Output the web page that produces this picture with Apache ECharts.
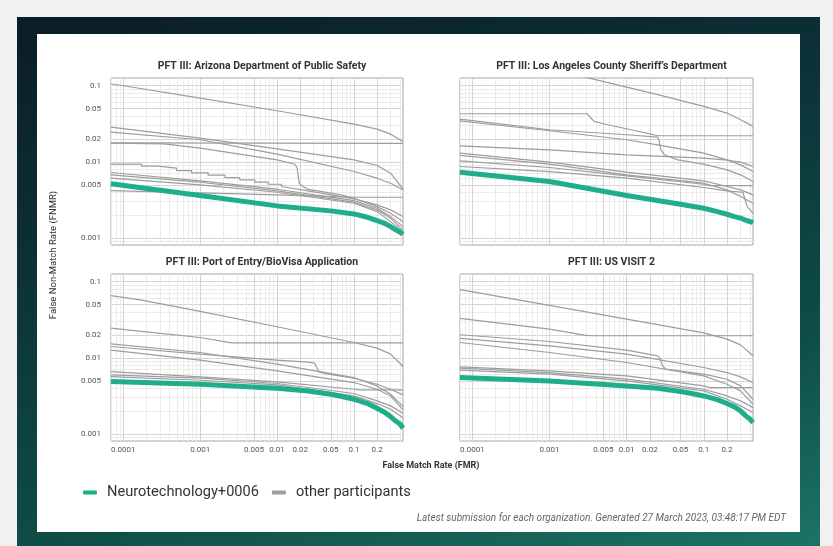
<!DOCTYPE html>
<html>
<head>
<meta charset="utf-8">
<script src="https://cdn.jsdelivr.net/npm/echarts@6/dist/echarts.min.js"></script>
<style>
  html, body { margin: 0; padding: 0; }
  body { width: 833px; height: 546px; background: #f1f1f1; position: relative; overflow: hidden; }
  #bg { position: absolute; left: 17px; top: 17px; width: 803px; height: 540px;
        background: linear-gradient(165deg, #0a1c28 0%, #0c3238 35%, #0e4d45 70%, #1d7568 100%); }
  #panel { position: absolute; left: 37px; top: 34px; width: 763px; height: 498px; background: #fff; }
  #chart { position: absolute; left: 0; top: 0; width: 833px; height: 546px; }
</style>
</head>
<body>
<div id="bg"></div>
<div id="panel"></div>
<div id="chart"></div>
<script>
var xTicks = [0.0001, 0.001, 0.005, 0.01, 0.02, 0.05, 0.1, 0.2];
var yTicks = [0.001, 0.005, 0.01, 0.02, 0.05, 0.1];

var panelTitles = [
  'PFT III: Arizona Department of Public Safety',
  'PFT III: Los Angeles County Sheriff\u2019s Department',
  'PFT III: Port of Entry/BioVisa Application',
  'PFT III: US VISIT 2'
];

// [FMR, FNMR]
var greenArizona = [[6.9e-5, 0.00514], [1e-3, 0.00361], [0.01, 0.00264], [0.05, 0.00227], [0.1, 0.00207], [0.15, 0.00187],
  [0.2, 0.00169], [0.25, 0.00156], [0.3, 0.00141], [0.35, 0.00128], [0.4, 0.00119], [0.435, 0.00112]];
var otherArizona = [
  [[6.9e-5, 0.106], [1e-3, 0.0688], [0.01, 0.0469], [0.1, 0.0313], [0.2, 0.0269], [0.3, 0.0231], [0.435, 0.0185]],
  [[6.9e-5, 0.0286], [1e-3, 0.0205], [0.01, 0.0148], [0.1, 0.01063], [0.2, 0.00895], [0.3, 0.0071], [0.435, 0.00437]],
  [[6.9e-5, 0.0246], [1e-3, 0.0195], [0.01, 0.01262], [0.1, 0.00746], [0.2, 0.0061], [0.3, 0.00524], [0.435, 0.00428]],
  [[6.9e-5, 0.0177], [0.435, 0.0175]],
  [[6.9e-5, 0.0176], [3.4e-4, 0.0172], [3.6e-4, 0.0163], [1e-3, 0.0151], [0.01, 0.0106], [0.017, 0.0093], [0.0183, 0.0083],
   [0.0188, 0.0065], [0.0195, 0.0052], [0.022, 0.0047], [0.0253, 0.00435], [0.042, 0.0040], [0.07, 0.00365], [0.1, 0.00333],
   [0.2, 0.00258], [0.3, 0.00211], [0.435, 0.00164]],
  [[6.9e-5, 0.00932], [1.73e-4, 0.00932], [1.73e-4, 0.00877], [2.85e-4, 0.00877], [2.85e-4, 0.00826], [4.93e-4, 0.00826],
   [4.93e-4, 0.00769], [7.73e-4, 0.00769], [7.73e-4, 0.00717], [1.27e-3, 0.00717], [1.27e-3, 0.00668], [2.1e-3, 0.00668],
   [2.1e-3, 0.00622], [3.27e-3, 0.00622], [3.27e-3, 0.0058], [5.13e-3, 0.0058], [5.13e-3, 0.0054], [7.64e-3, 0.0054],
   [7.64e-3, 0.00508], [0.0114, 0.00508], [0.0114, 0.00474], [0.0253, 0.00415], [0.1, 0.00326], [0.2, 0.00272],
   [0.3, 0.00234], [0.435, 0.00191]],
  [[6.9e-5, 0.00724], [1e-3, 0.00563], [0.01, 0.00437], [0.1, 0.0031], [0.2, 0.00246], [0.3, 0.00191], [0.435, 0.00141]],
  [[6.9e-5, 0.00675], [1e-3, 0.0054], [0.01, 0.00415], [0.1, 0.00295], [0.2, 0.00234], [0.3, 0.00182], [0.435, 0.00127]],
  [[6.9e-5, 0.0061], [1e-3, 0.00498], [0.01, 0.00399], [0.1, 0.00286], [0.2, 0.00222], [0.3, 0.00164], [0.435, 0.00121]],
  [[6.9e-5, 0.0042], [1e-3, 0.00391], [0.01, 0.00368], [0.07, 0.00346], [0.12, 0.00343], [0.435, 0.00343]]
];

var greenLosAngeles = [[6.9e-5, 0.00731], [1e-3, 0.00551], [0.01, 0.00361], [0.05, 0.00277], [0.1, 0.00246], [0.15, 0.00222],
  [0.2, 0.00205], [0.25, 0.00191], [0.3, 0.00182], [0.35, 0.00171], [0.4, 0.00164], [0.435, 0.00159]];
var otherLosAngeles = [
  [[1e-3, 0.17], [3.27e-3, 0.126], [0.0253, 0.0762], [0.1, 0.0535], [0.2, 0.0437], [0.3, 0.0357], [0.435, 0.0292]],
  [[6.9e-5, 0.0428], [3.1e-3, 0.0428], [3.44e-3, 0.0376], [3.8e-3, 0.034], [5.67e-3, 0.0307], [0.0114, 0.0264],
   [0.0207, 0.0231], [0.0253, 0.022], [0.435, 0.022]],
  [[6.9e-5, 0.0346], [1e-3, 0.0256], [0.01, 0.0195], [0.0253, 0.01674], [0.1, 0.013], [0.2, 0.01063], [0.3, 0.00913], [0.435, 0.00746]],
  [[6.9e-5, 0.0364], [1e-3, 0.0264], [0.01, 0.0227], [0.0253, 0.0211], [0.0266, 0.0185], [0.0274, 0.0148], [0.0309, 0.01237],
   [0.046, 0.01063], [0.1, 0.00932], [0.2, 0.00785], [0.3, 0.00675], [0.435, 0.00551]],
  [[6.9e-5, 0.01624], [1e-3, 0.01439], [0.01, 0.01237], [0.1, 0.01118], [0.2, 0.01052], [0.3, 0.0099], [0.435, 0.00868]],
  [[6.9e-5, 0.013], [1e-3, 0.0099], [0.01, 0.00731], [0.1, 0.00563], [0.2, 0.00474], [0.3, 0.00428], [0.435, 0.00368]],
  [[6.9e-5, 0.01213], [1e-3, 0.00932], [0.01, 0.00675], [0.1, 0.00524], [0.2, 0.00428], [0.3, 0.0035], [0.435, 0.00286]],
  [[6.9e-5, 0.01031], [1e-3, 0.00843], [0.01, 0.00655], [0.1, 0.00508], [0.12, 0.00488], [0.435, 0.00488]],
  [[6.9e-5, 0.00868], [1e-3, 0.00746], [0.01, 0.0061], [0.1, 0.0046], [0.2, 0.00415], [0.321, 0.00399], [0.344, 0.00316],
   [0.366, 0.00258], [0.435, 0.00211]]
];

var greenPortOfEntry = [[6.9e-5, 0.00488], [1e-3, 0.0045], [0.01, 0.00399], [0.0253, 0.00368], [0.05, 0.00333], [0.07, 0.0031],
  [0.1, 0.00286], [0.15, 0.00251], [0.2, 0.00218], [0.25, 0.00193], [0.3, 0.00169], [0.35, 0.00148], [0.4, 0.00134], [0.435, 0.00119]];
var otherPortOfEntry = [
  [[6.9e-5, 0.0655], [1.73e-4, 0.0574], [1e-3, 0.0407], [0.01, 0.0256], [0.1, 0.0159], [0.2, 0.0134], [0.3, 0.0112], [0.435, 0.00769]],
  [[6.9e-5, 0.0246], [1.73e-4, 0.0222], [1e-3, 0.0185], [2.55e-3, 0.0157], [0.435, 0.0157]],
  [[6.9e-5, 0.0141], [1e-3, 0.01118], [0.01, 0.00932], [0.0253, 0.00877], [0.0309, 0.00851], [0.0328, 0.00746], [0.0348, 0.00655],
   [0.046, 0.0061], [0.1, 0.0054], [0.2, 0.0045], [0.3, 0.00387], [0.435, 0.00326]],
  [[6.9e-5, 0.01528], [1e-3, 0.01176], [0.01, 0.00826], [0.1, 0.00551], [0.2, 0.00428], [0.3, 0.00333], [0.435, 0.00229]],
  [[6.9e-5, 0.01262], [1e-3, 0.00932], [0.01, 0.00675], [0.1, 0.00474], [0.2, 0.00387], [0.3, 0.00316], [0.435, 0.00207]],
  [[6.9e-5, 0.00661], [1e-3, 0.00563], [0.01, 0.00483], [0.1, 0.00387], [0.12, 0.00379], [0.435, 0.00379]],
  [[6.9e-5, 0.00598], [1e-3, 0.0054], [0.01, 0.0046], [0.1, 0.0034], [0.2, 0.00272], [0.3, 0.00234], [0.435, 0.00187]],
  [[6.9e-5, 0.00568], [1e-3, 0.00508], [0.01, 0.00441], [0.1, 0.00316], [0.2, 0.00251], [0.3, 0.00211], [0.435, 0.00164]]
];

var greenUsVisit = [[6.9e-5, 0.00551], [1e-3, 0.00498], [0.01, 0.00428], [0.0253, 0.00399], [0.05, 0.00361], [0.07, 0.0034],
  [0.1, 0.00316], [0.15, 0.00283], [0.2, 0.00251], [0.25, 0.00227], [0.3, 0.00201], [0.35, 0.00173], [0.4, 0.00156], [0.435, 0.00141]];
var otherUsVisit = [
  [[6.9e-5, 0.0785], [1e-3, 0.0488], [0.01, 0.0323], [0.1, 0.0213], [0.2, 0.0176], [0.3, 0.0148], [0.435, 0.01063]],
  [[6.9e-5, 0.0329], [1e-3, 0.0238], [2.82e-3, 0.0199], [3.5e-3, 0.0195], [0.435, 0.0195]],
  [[6.9e-5, 0.0201], [1e-3, 0.0164], [0.01, 0.01262], [0.0253, 0.01063], [0.0274, 0.00961], [0.0291, 0.00785], [0.0324, 0.0071],
   [0.07, 0.00641], [0.1, 0.0061], [0.2, 0.00524], [0.3, 0.00428], [0.435, 0.00286]],
  [[6.9e-5, 0.018], [1e-3, 0.01439], [0.01, 0.01118], [0.1, 0.00746], [0.2, 0.00641], [0.3, 0.00563], [0.435, 0.00474]],
  [[6.9e-5, 0.0159], [1e-3, 0.01176], [0.01, 0.00868], [0.1, 0.0058], [0.2, 0.0045], [0.3, 0.00368], [0.435, 0.00246]],
  [[6.9e-5, 0.00761], [1e-3, 0.00675], [0.01, 0.0058], [0.1, 0.00428], [0.12, 0.00407], [0.435, 0.00407]],
  [[6.9e-5, 0.00731], [1e-3, 0.00641], [0.01, 0.00524], [0.1, 0.00387], [0.2, 0.00316], [0.3, 0.00272], [0.435, 0.00222]],
  [[6.9e-5, 0.00689], [1e-3, 0.0061], [0.01, 0.00498], [0.1, 0.00368], [0.2, 0.00286], [0.3, 0.00234], [0.435, 0.00191]]
];

var greens = [greenArizona, greenLosAngeles, greenPortOfEntry, greenUsVisit];
var others = [otherArizona, otherLosAngeles, otherPortOfEntry, otherUsVisit];

// layout
var X_MIN = -4.16, X_MAX = -0.362, Y_MIN = -3.092, Y_MAX = -0.899;
var boxes = [
  {left: 111, top: 78, width: 292, height: 167},
  {left: 460, top: 78, width: 293, height: 167},
  {left: 111, top: 274, width: 292, height: 167},
  {left: 460, top: 274, width: 293, height: 167}
];
var GREEN = '#1fae8a', GREY = '#9d9d9d';

function toLog(curve) {
  return curve.map(function (p) { return [Math.log10(p[0]), Math.log10(p[1])]; });
}
function minorLines(lo, hi, major) {
  var out = [];
  for (var e = -6; e <= 1; e++) {
    for (var k = 1; k < 10; k++) {
      var v = Math.log10(k * Math.pow(10, e));
      if (v > lo && v < hi && !major.some(function (m) { return Math.abs(m - v) < 1e-9; })) out.push(v);
    }
  }
  return out;
}
function tickText(list) {
  return function (v) {
    for (var i = 0; i < list.length; i++) {
      if (Math.abs(Math.log10(list[i]) - v) < 1e-6) return String(list[i]);
    }
    return '';
  };
}

var xMajor = xTicks.map(Math.log10), yMajor = yTicks.map(Math.log10);
var xMinor = minorLines(X_MIN, X_MAX, xMajor), yMinor = minorLines(Y_MIN, Y_MAX, yMajor);

var grids = [], xAxes = [], yAxes = [], series = [], titles = [];
boxes.forEach(function (b, i) {
  grids.push({left: b.left, top: b.top, width: b.width, height: b.height, show: true,
    borderColor: '#a3a3a3', borderWidth: 1, backgroundColor: 'transparent'});
  titles.push({text: panelTitles[i], left: b.left + b.width / 2, top: b.top - 22, textAlign: 'center',
    textStyle: {fontSize: 10.5, fontWeight: 'bold', color: '#333', fontFamily: 'Roboto'}});

  xAxes.push({type: 'value', gridIndex: i, min: X_MIN, max: X_MAX, position: 'bottom',
    axisLine: {show: false}, axisTick: {show: false, customValues: xMajor},
    axisLabel: {show: i >= 2, customValues: xMajor, formatter: tickText(xTicks), fontSize: 8, color: '#555', margin: 5},
    splitLine: {show: true, lineStyle: {color: '#d4d4d4', width: 1}}});
  xAxes.push({type: 'value', gridIndex: i, min: X_MIN, max: X_MAX, position: 'top',
    axisLine: {show: false}, axisTick: {show: false, customValues: xMinor}, axisLabel: {show: false},
    splitLine: {show: true, lineStyle: {color: '#ebebeb', width: 1}}});
  yAxes.push({type: 'value', gridIndex: i, min: Y_MIN, max: Y_MAX, position: 'left',
    axisLine: {show: false}, axisTick: {show: false, customValues: yMajor},
    axisLabel: {show: i % 2 === 0, customValues: yMajor, formatter: tickText(yTicks), fontSize: 8, color: '#555', margin: 10},
    splitLine: {show: true, lineStyle: {color: '#d4d4d4', width: 1}}});
  yAxes.push({type: 'value', gridIndex: i, min: Y_MIN, max: Y_MAX, position: 'right',
    axisLine: {show: false}, axisTick: {show: false, customValues: yMinor}, axisLabel: {show: false},
    splitLine: {show: true, lineStyle: {color: '#ebebeb', width: 1}}});

  others[i].forEach(function (c) {
    series.push({type: 'line', name: 'other participants', xAxisIndex: 2 * i, yAxisIndex: 2 * i,
      data: toLog(c), symbol: 'none', silent: true, z: 3,
      lineStyle: {color: GREY, width: 1.2}, itemStyle: {color: GREY}});
  });
  series.push({type: 'line', name: 'Neurotechnology+0006', xAxisIndex: 2 * i, yAxisIndex: 2 * i,
    data: toLog(greens[i]), symbol: 'none', silent: true, z: 4,
    lineStyle: {color: GREEN, width: 5, join: 'round'}, itemStyle: {color: GREEN}});
});

var chart = echarts.init(document.getElementById('chart'), null, {renderer: 'canvas'});
chart.setOption({
  animation: false,
  backgroundColor: 'transparent',
  textStyle: {fontFamily: 'Roboto'},
  title: titles,
  grid: grids,
  xAxis: xAxes,
  yAxis: yAxes,
  legend: {
    data: ['Neurotechnology+0006', 'other participants'],
    left: 78, top: 480, icon: 'roundRect', itemWidth: 14, itemHeight: 4, itemGap: 13,
    textStyle: {fontSize: 14.6, color: '#333', fontFamily: 'Roboto', padding: [0, 0, 0, 5]}
  },
  graphic: [
    {type: 'text', x: 54, y: 255, rotation: Math.PI / 2,
      style: {text: 'False Non-Match Rate (FNMR)', align: 'center', verticalAlign: 'middle',
        font: '9.5px Roboto', fill: '#333'}},
    {type: 'text', x: 431, y: 466,
      style: {text: 'False Match Rate (FMR)', align: 'center', verticalAlign: 'middle',
        font: 'bold 9px Roboto', fill: '#333'}},
    {type: 'text', x: 786, y: 518,
      style: {text: 'Latest submission for each organization. Generated 27 March 2023, 03:48:17 PM EDT',
        align: 'right', verticalAlign: 'middle', font: 'italic 10px Roboto', fill: '#666'}}
  ],
  series: series
});
</script>
</body>
</html>
